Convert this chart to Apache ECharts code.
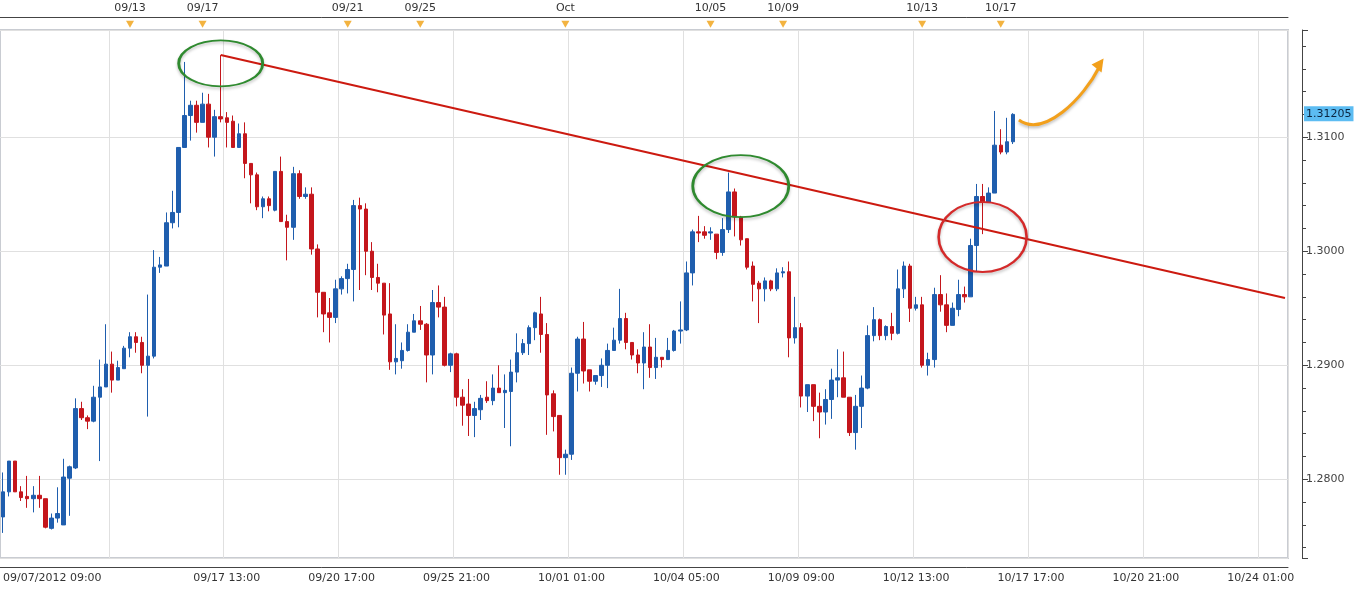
<!DOCTYPE html>
<html><head><meta charset="utf-8">
<script src="https://cdn.jsdelivr.net/npm/echarts@6/dist/echarts.min.js"></script>
<style>html,body{margin:0;padding:0;background:#fff}#c{width:1360px;height:598px}</style>
</head><body><div id="c"></div>
<script>
// [open, close, low, high] for each 4-hour candle
const ohlc = [
[1.2767,1.2789,1.2753,1.2806],[1.2789,1.2816,1.2785,1.2816],[1.2816,1.2789,1.2789,1.2816],[1.2789,1.2784,1.2781,1.2794],
[1.2785,1.2783,1.2775,1.2803],[1.2783,1.2786,1.2771,1.2794],[1.2786,1.2783,1.2775,1.2803],[1.2783,1.2758,1.2757,1.2783],
[1.2757,1.2766,1.2756,1.2770],[1.2766,1.2770,1.2762,1.2793],[1.2760,1.2802,1.2760,1.2818],[1.2801,1.2811,1.2768,1.2812],
[1.2810,1.2862,1.2809,1.2871],[1.2862,1.2854,1.2852,1.2868],[1.2854,1.2851,1.2844,1.2856],[1.2851,1.2872,1.2850,1.2882],
[1.2872,1.2881,1.2816,1.2905],[1.2881,1.2901,1.2881,1.2936],[1.2901,1.2887,1.2876,1.2912],[1.2887,1.2898,1.2887,1.2904],
[1.2897,1.2915,1.2897,1.2917],[1.2915,1.2925,1.2907,1.2929],[1.2925,1.2920,1.2911,1.2929],[1.2920,1.2900,1.2893,1.2925],
[1.2900,1.2908,1.2855,1.2962],[1.2908,1.2986,1.2906,1.3001],[1.2986,1.2988,1.2981,1.2995],[1.2987,1.3025,1.2987,1.3034],
[1.3025,1.3034,1.3020,1.3053],[1.3034,1.3091,1.3021,1.3091],[1.3091,1.3119,1.3091,1.3166],[1.3119,1.3128,1.3097,1.3132],
[1.3128,1.3113,1.3104,1.3132],[1.3113,1.3129,1.3113,1.3139],[1.3129,1.3100,1.3091,1.3138],[1.3100,1.3118,1.3083,1.3124],
[1.3118,1.3116,1.3113,1.3172],[1.3117,1.3113,1.3091,1.3122],[1.3114,1.3091,1.3091,1.3119],[1.3091,1.3103,1.3091,1.3112],
[1.3103,1.3077,1.3064,1.3113],[1.3077,1.3067,1.3042,1.3077],[1.3067,1.3039,1.3036,1.3069],[1.3039,1.3046,1.3029,1.3048],
[1.3046,1.3040,1.3035,1.3048],[1.3036,1.3070,1.3035,1.3070],[1.3070,1.3026,1.3026,1.3083],[1.3026,1.3021,1.2992,1.3032],
[1.3021,1.3068,1.3010,1.3074],[1.3068,1.3048,1.3046,1.3071],[1.3048,1.3050,1.3046,1.3056],[1.3050,1.3002,1.2997,1.3056],
[1.3002,1.2964,1.2942,1.3006],[1.2964,1.2945,1.2929,1.2964],[1.2946,1.2942,1.2920,1.2959],[1.2942,1.2967,1.2937,1.2975],
[1.2967,1.2976,1.2962,1.2978],[1.2976,1.2984,1.2963,1.2989],[1.2984,1.3040,1.2956,1.3045],[1.3040,1.3037,1.2966,1.3047],
[1.3037,1.3000,1.2979,1.3042],[1.3000,1.2977,1.2966,1.3008],[1.2977,1.2972,1.2964,1.2989],[1.2972,1.2944,1.2927,1.2972],
[1.2945,1.2903,1.2896,1.2972],[1.2903,1.2906,1.2892,1.2936],[1.2904,1.2913,1.2897,1.2920],[1.2913,1.2929,1.2912,1.2936],
[1.2929,1.2939,1.2929,1.2945],[1.2939,1.2936,1.2931,1.2952],[1.2936,1.2909,1.2885,1.2937],[1.2909,1.2955,1.2892,1.2966],
[1.2955,1.2951,1.2942,1.2970],[1.2951,1.2900,1.2899,1.2960],[1.2900,1.2910,1.2894,1.2911],[1.2910,1.2872,1.2864,1.2911],
[1.2872,1.2865,1.2847,1.2879],[1.2866,1.2856,1.2838,1.2888],[1.2856,1.2862,1.2837,1.2868],[1.2861,1.2871,1.2852,1.2874],
[1.2872,1.2869,1.2867,1.2886],[1.2869,1.2880,1.2865,1.2892],[1.2880,1.2876,1.2876,1.2900],[1.2876,1.2878,1.2845,1.2892],
[1.2877,1.2894,1.2829,1.2905],[1.2894,1.2911,1.2885,1.2928],[1.2911,1.2919,1.2909,1.2923],[1.2919,1.2933,1.2909,1.2935],
[1.2933,1.2946,1.2922,1.2947],[1.2945,1.2927,1.2911,1.2960],[1.2927,1.2874,1.2839,1.2937],[1.2875,1.2855,1.2842,1.2878],
[1.2856,1.2819,1.2804,1.2856],[1.2819,1.2822,1.2804,1.2826],[1.2822,1.2893,1.2817,1.2898],[1.2893,1.2923,1.2877,1.2925],
[1.2923,1.2895,1.2884,1.2938],[1.2896,1.2886,1.2877,1.2896],[1.2886,1.2891,1.2883,1.2891],[1.2891,1.2900,1.2881,1.2906],
[1.2900,1.2913,1.2880,1.2919],[1.2913,1.2922,1.2913,1.2933],[1.2922,1.2941,1.2919,1.2967],[1.2941,1.2920,1.2914,1.2946],
[1.2920,1.2909,1.2905,1.2920],[1.2909,1.2902,1.2893,1.2914],[1.2902,1.2916,1.2879,1.2929],[1.2916,1.2898,1.2889,1.2936],
[1.2898,1.2907,1.2888,1.2924],[1.2907,1.2905,1.2898,1.2907],[1.2905,1.2913,1.2905,1.2924],[1.2913,1.2930,1.2912,1.2931],
[1.2930,1.2931,1.2919,1.2956],[1.2931,1.2981,1.2930,1.2991],[1.2981,1.3017,1.2970,1.3019],[1.3017,1.3016,1.3008,1.3031],
[1.3017,1.3014,1.3011,1.3022],[1.3016,1.3017,1.3010,1.3021],[1.3015,1.2999,1.2993,1.3015],[1.2999,1.3019,1.2996,1.3029],
[1.3019,1.3052,1.3016,1.3069],[1.3052,1.3030,1.3013,1.3055],[1.3030,1.3010,1.3005,1.3031],[1.3011,1.2986,1.2984,1.3011],
[1.2987,1.2971,1.2956,1.2991],[1.2972,1.2967,1.2937,1.2974],[1.2967,1.2974,1.2956,1.2977],[1.2974,1.2967,1.2965,1.2975],
[1.2967,1.2981,1.2965,1.2985],[1.2981,1.2982,1.2977,1.2986],[1.2982,1.2924,1.2907,1.2991],[1.2924,1.2933,1.2919,1.2960],
[1.2933,1.2873,1.2863,1.2937],[1.2873,1.2883,1.2859,1.2883],[1.2883,1.2864,1.2851,1.2883],[1.2864,1.2859,1.2836,1.2876],
[1.2859,1.2870,1.2848,1.2879],[1.2870,1.2887,1.2853,1.2897],[1.2887,1.2889,1.2872,1.2914],[1.2889,1.2872,1.2872,1.2912],
[1.2872,1.2841,1.2838,1.2872],[1.2841,1.2864,1.2826,1.2874],[1.2864,1.2880,1.2845,1.2891],[1.2880,1.2926,1.2879,1.2935],
[1.2926,1.2940,1.2921,1.2951],[1.2940,1.2926,1.2922,1.2941],[1.2926,1.2934,1.2922,1.2935],[1.2934,1.2928,1.2922,1.2946],
[1.2928,1.2967,1.2927,1.2984],[1.2967,1.2987,1.2959,1.2991],[1.2987,1.2950,1.2938,1.2989],[1.2950,1.2953,1.2948,1.2960],
[1.2953,1.2900,1.2898,1.2960],[1.2900,1.2905,1.2891,1.2911],[1.2905,1.2962,1.2898,1.2968],[1.2962,1.2953,1.2947,1.2979],
[1.2953,1.2935,1.2929,1.2963],[1.2935,1.2950,1.2935,1.2955],[1.2949,1.2962,1.2943,1.2975],[1.2962,1.2960,1.2955,1.2969],
[1.2960,1.3005,1.2960,1.3011],[1.3005,1.3048,1.2982,1.3059],[1.3048,1.3043,1.3015,1.3059],[1.3043,1.3051,1.3043,1.3056],
[1.3051,1.3093,1.3051,1.3123],[1.3093,1.3087,1.3085,1.3107],[1.3087,1.3096,1.3085,1.3117],[1.3096,1.3120,1.3094,1.3121]
];
const totalSlots = 213;
const bottomTickIdx = [0,37,56,75,94,113,132,151,170,189,208];
const bottomTickLabels = ['09/07/2012 09:00','09/17 13:00','09/20 17:00','09/25 21:00','10/01 01:00','10/04 05:00','10/09 09:00','10/12 13:00','10/17 17:00','10/20 21:00','10/24 01:00'];
const gridIdx = [18,37,56,75,94,113,132,151,170,189,208];
const topTickIdx = [21,33,57,69,93,117,129,152,165];
const topTickLabels = ['09/13','09/17','09/21','09/25','Oct','10/05','10/09','10/13','10/17'];
const lastPrice = 1.31205;
const trendLine = [[36,1.3172],[212,1.2959]];
// annotations: [index, price, rxPx, ryPx, color]
const ellipses = [[36,1.31647,42,23,'#2f8a2f'],[121.7,1.30571,48,31,'#2f8a2f'],[161.7,1.30125,44,35,'#d42a2a']];
const arrowFrom = [168.2,1.3115], arrowTo = [181.5,1.3169];

const cats = Array.from({length: totalSlots}, (_, i) => String(i));
const font = 'DejaVu Sans';
const chart = echarts.init(document.getElementById('c'));
chart.setOption({
  animation: false,
  grid: {left: -1, right: 72, top: 30, bottom: 40, show: true, borderColor: '#c9ccd2', borderWidth: 2},
  xAxis: [{
    type: 'category', data: cats, position: 'bottom', offset: 9,
    axisLine: {lineStyle: {color: '#444'}},
    axisTick: {interval: (i) => gridIdx.includes(i), length: 6, lineStyle: {color: '#444'}},
    axisLabel: {interval: (i) => bottomTickIdx.includes(i), alignMinLabel: 'left',
      formatter: (v, i) => { const k = bottomTickIdx.indexOf(Number(v)); return k >= 0 ? bottomTickLabels[k] : ''; },
      color: '#333', fontFamily: font, fontSize: 11, margin: 6},
    splitLine: {show: true, interval: (i) => gridIdx.includes(i), lineStyle: {color: '#e0e0e0'}}
  }, {
    type: 'category', data: cats, position: 'top', offset: 13,
    axisLine: {lineStyle: {color: '#444'}},
    axisTick: {interval: (i) => topTickIdx.includes(i), length: 4, inside: true, lineStyle: {color: '#444'}},
    axisLabel: {interval: (i) => topTickIdx.includes(i),
      formatter: (v) => { const k = topTickIdx.indexOf(Number(v)); return k >= 0 ? topTickLabels[k] : ''; },
      color: '#333', fontFamily: font, fontSize: 11, margin: 3},
    splitLine: {show: false}
  }],
  yAxis: {
    type: 'value', position: 'right', offset: 14, min: 1.2731, max: 1.3194, splitNumber: 4, scale: true,
    axisLine: {show: true, lineStyle: {color: '#444'}},
    axisTick: {show: true, length: 6, lineStyle: {color: '#444'}},
    minorTick: {show: true, splitNumber: 5, length: 4, lineStyle: {color: '#444'}},
    axisLabel: {showMinLabel: false, showMaxLabel: false, formatter: (v) => v.toFixed(4), color: '#444', fontFamily: font, fontSize: 11, margin: 4},
    splitLine: {lineStyle: {color: '#e0e0e0'}}
  },
  series: [{
    type: 'candlestick', data: ohlc, barWidth: 4,
    itemStyle: {color: '#1f5eae', color0: '#c4161c', borderColor: '#1f5eae', borderColor0: '#c4161c', borderWidth: 1},
    markLine: {
      silent: true, symbol: 'none', animation: false,
      data: [
        [{coord: trendLine[0], lineStyle: {color: '#cc1a10', width: 2, type: 'solid'}, label: {show: false}}, {coord: trendLine[1]}]
      ]
    }
  }, {
    type: 'scatter', xAxisIndex: 1, clip: false, symbol: 'triangle', symbolRotate: 180, symbolSize: [8, 7],
    data: topTickIdx.map(i => [i, 1.3199]), itemStyle: {color: '#f0a010'}, z: 10
  }]
});

const px = (idx, p) => chart.convertToPixel({xAxisIndex: 0, yAxisIndex: 0}, [idx, p]);
const g = [];
ellipses.forEach(([i, p, rx, ry, col]) => {
  const c = px(i, p);
  g.push({type: 'circle', x: c[0], y: c[1], scaleX: rx / ry, scaleY: 1, shape: {cx: 0, cy: 0, r: ry},
    style: {fill: 'none', stroke: col, lineWidth: 2 * ry / rx + 0.5, shadowBlur: 3, shadowColor: 'rgba(0,0,0,0.25)', shadowOffsetY: 2}, z: 100});
});
const a = px(...arrowFrom), b = px(...arrowTo);
g.push({type: 'bezierCurve', shape: {x1: a[0], y1: a[1], cpx1: a[0] + 25, cpy1: a[1] + 18, cpx2: b[0] - 20, cpy2: b[1] + 40, x2: b[0] - 4, y2: b[1] + 8},
  style: {stroke: '#f2a01c', lineWidth: 3, fill: 'none', shadowBlur: 3, shadowColor: 'rgba(0,0,0,0.25)', shadowOffsetY: 2}, z: 100});
g.push({type: 'polygon', shape: {points: [[b[0], b[1]], [b[0] - 12, b[1] + 6], [b[0] - 2, b[1] + 14]]},
  style: {fill: '#f2a01c'}, z: 100});
const lp = px(0, lastPrice);
g.push({type: 'text', x: 1304, y: lp[1], z: 100,
  style: {text: lastPrice.toFixed(5), fill: '#0b2540', font: '11px "DejaVu Sans"', verticalAlign: 'middle',
    backgroundColor: '#5cbcf2', padding: [2, 2]}});
chart.setOption({graphic: g});
</script></body></html>
